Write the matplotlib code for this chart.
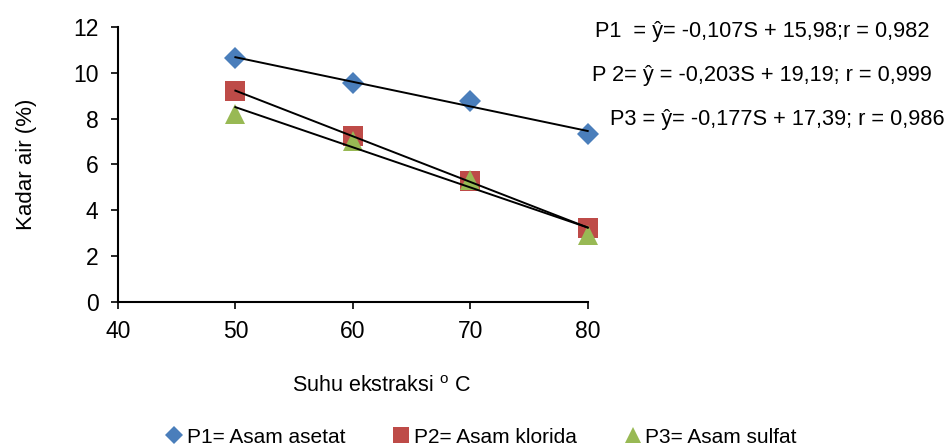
import numpy as np
import matplotlib
matplotlib.use("Agg")
import matplotlib.pyplot as plt

plt.rcParams["font.family"] = ["Liberation Sans", "DejaVu Sans"]
plt.rcParams["mathtext.default"] = "regular"

# data
suhu = [50, 60, 70, 80]
p1 = [10.64, 9.55, 8.75, 7.33]   # Asam asetat
p2 = [9.21, 7.22, 5.28, 3.22]    # Asam klorida
p3 = [8.20, 7.03, 5.33, 2.93]    # Asam sulfat
labels = ["P1= Asam asetat", "P2= Asam klorida", "P3= Asam sulfat"]
equations = ["P1  = ŷ= -0,107S + 15,98;r = 0,982",
             "P 2= ŷ = -0,203S + 19,19; r = 0,999",
             "P3 = ŷ= -0,177S + 17,39; r = 0,986"]

fig = plt.figure(figsize=(9.51, 4.48), dpi=100)
ax = fig.add_axes([0.124, 0.326, 0.494, 0.614])

styles = [("D", "#4A7EBB", 11.5), ("s", "#BE4B48", 14), ("^", "#98B954", 14.5)]
handles = []
for ys, (m, col, ms), lab in zip([p1, p2, p3], styles, labels):
    h, = ax.plot(suhu, ys, linestyle="none", marker=m, ms=ms, color=col,
                 markeredgewidth=0, label=lab, zorder=3, clip_on=False)
    handles.append(h)
    # linear trend line
    k, b = np.polyfit(suhu, ys, 1)
    xx = np.array([suhu[0], suhu[-1]])
    ax.plot(xx, k * xx + b, color="black", lw=1.4, zorder=4, clip_on=False)

ax.set_xlim(40, 80)
ax.set_ylim(0, 12)
ax.set_xticks([40, 50, 60, 70, 80])
ax.set_yticks(range(0, 13, 2))
for s in ["top", "right"]:
    ax.spines[s].set_visible(False)
for s in ["left", "bottom"]:
    ax.spines[s].set_linewidth(1.5)
ax.tick_params(direction="out", length=5, width=1.2, labelsize=16.5)
ax.tick_params(axis="x", pad=8)
ax.tick_params(axis="y", pad=9)
ax.set_ylabel("Kadar air (%)", fontsize=16)
ax.yaxis.set_label_coords(-0.172, 0.5)
ax.set_xlabel(r"Suhu ekstraksi $^{o}$ C", fontsize=15.5)
ax.xaxis.set_label_coords(0.56, -0.27)

# regression equations on the right
for (x, y), txt in zip([(595, 31), (592, 75), (610, 120)], equations):
    fig.text(x / 951, 1 - y / 448, txt, fontsize=15.7, ha="left", va="center")

fig.legend(handles=handles, loc="center", bbox_to_anchor=(0.505, 1 - 437 / 448),
           ncol=3, frameon=False, fontsize=15, handletextpad=0.1,
           columnspacing=2.2, handlelength=1.0, markerscale=0.8)

fig.savefig("out.png", dpi=100)
